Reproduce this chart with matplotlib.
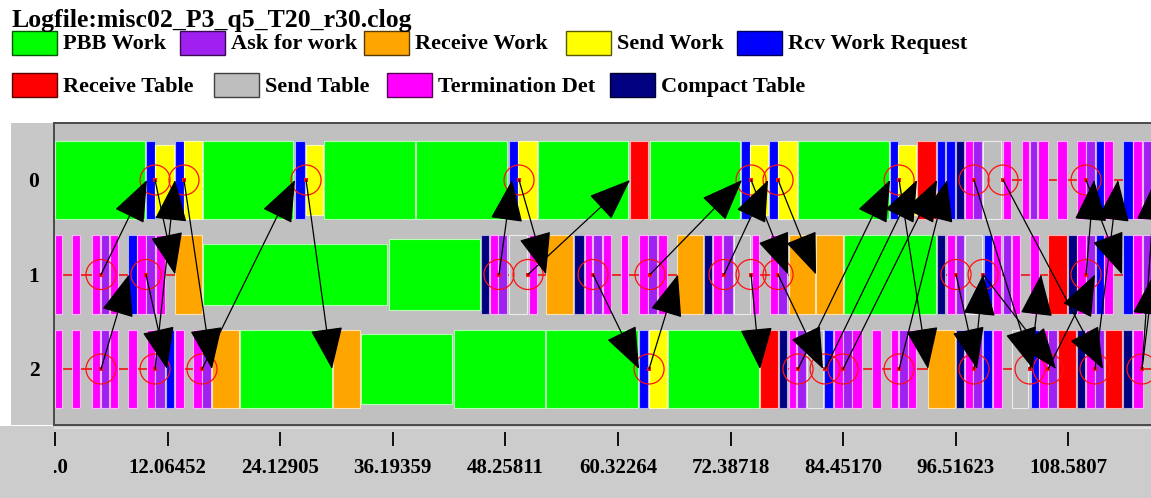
import matplotlib
matplotlib.use("Agg")
import matplotlib.pyplot as plt
from matplotlib.patches import Rectangle, FancyArrowPatch, ArrowStyle
import matplotlib.colors as mcolors
import numpy as np

# ---------------- data ----------------
title = "Logfile:misc02_P3_q5_T20_r30.clog"

legend_codes = ["PBB", "AFW", "RW", "SW", "RWR", "RT", "ST", "TD", "CT"]
legend_names = ["PBB Work", "Ask for work", "Receive Work", "Send Work", "Rcv Work Request",
                "Receive Table", "Send Table", "Termination Det", "Compact Table"]
legend_colors = ["#00ff00", "#a020f0", "#ffa500", "#ffff00", "#0000ff",
                 "#ff0000", "#bebebe", "#ff00ff", "#000080"]

row_labels = ["0", "1", "2"]

tick_values = [0.0, 12.06452, 24.12905, 36.19359, 48.25811, 60.32264,
               72.38718, 84.45170, 96.51623, 108.5807]
tick_labels = ["0.0", "12.06452", "24.12905", "36.19359", "48.25811", "60.32264",
               "72.38718", "84.45170", "96.51623", "108.5807"]

# (start, end, state, nesting depth)
row0_states = [
    (0.0, 9.64, "PBB", 0), (9.80, 10.72, "RWR", 0), (10.72, 12.75, "SW", 1),
    (12.86, 13.82, "RWR", 0), (13.82, 15.75, "SW", 0), (15.86, 25.50, "PBB", 0),
    (25.72, 26.79, "RWR", 0), (26.90, 28.72, "SW", 1), (28.82, 38.57, "PBB", 0),
    (38.68, 48.43, "PBB", 0), (48.65, 49.61, "RWR", 0), (49.61, 51.65, "SW", 0),
    (51.75, 61.40, "PBB", 0), (61.61, 63.54, "RT", 0), (63.75, 73.40, "PBB", 0),
    (73.50, 74.47, "RWR", 0), (74.47, 76.40, "SW", 1), (76.51, 77.47, "RWR", 0),
    (77.47, 79.50, "SW", 0), (79.61, 89.36, "PBB", 0), (89.47, 90.33, "RWR", 0),
    (90.33, 92.26, "SW", 1), (92.36, 94.40, "RT", 0), (94.51, 95.36, "RWR", 0),
    (95.47, 96.44, "RWR", 0), (96.54, 97.40, "CT", 0), (97.51, 98.36, "TD", 0),
    (98.36, 99.33, "AFW", 0), (99.44, 101.36, "ST", 0), (101.58, 102.44, "TD", 0),
    (103.61, 104.36, "TD", 0), (104.47, 105.22, "AFW", 0), (105.33, 106.40, "TD", 0),
    (107.36, 108.43, "TD", 0), (109.51, 110.47, "TD", 0), (110.47, 111.43, "AFW", 0),
    (111.54, 112.40, "RWR", 0), (112.40, 113.36, "TD", 0), (114.43, 115.50, "RWR", 0),
    (115.50, 116.47, "TD", 0), (116.58, 117.60, "AFW", 0),
]
row1_states = [
    (0.0, 0.75, "TD", 0), (1.82, 2.68, "TD", 0), (3.96, 4.82, "TD", 0),
    (4.93, 5.79, "AFW", 0), (5.89, 6.75, "TD", 0), (7.82, 8.79, "RWR", 0),
    (8.79, 9.75, "TD", 0), (9.75, 10.72, "AFW", 0), (10.82, 11.79, "TD", 0),
    (12.86, 15.75, "RW", 0), (15.86, 35.57, "PBB", 2), (35.79, 45.54, "PBB", 1),
    (45.65, 46.50, "CT", 0), (46.61, 47.47, "TD", 0), (47.47, 48.43, "AFW", 0),
    (48.65, 50.57, "ST", 0), (50.79, 51.65, "TD", 0), (52.61, 55.50, "RW", 0),
    (55.61, 56.68, "CT", 0), (56.79, 57.54, "TD", 0), (57.65, 58.61, "AFW", 0),
    (58.72, 59.58, "TD", 0), (60.65, 61.40, "TD", 0), (62.58, 63.54, "TD", 0),
    (63.54, 64.50, "AFW", 0), (64.61, 65.58, "TD", 0), (66.65, 69.43, "RW", 0),
    (69.54, 70.40, "CT", 0), (70.50, 71.47, "TD", 0), (71.58, 72.65, "AFW", 0),
    (72.76, 74.47, "ST", 0), (74.68, 75.43, "TD", 0), (76.61, 77.47, "TD", 0),
    (77.47, 78.43, "AFW", 0), (78.65, 81.43, "RW", 0), (81.54, 84.43, "RW", 0),
    (84.54, 94.40, "PBB", 0), (94.51, 95.36, "CT", 0), (95.58, 96.44, "TD", 0),
    (96.54, 97.40, "AFW", 0), (97.51, 99.33, "ST", 0), (99.54, 100.40, "RWR", 0),
    (100.51, 101.36, "TD", 0), (101.58, 102.44, "AFW", 0), (102.54, 103.40, "TD", 0),
    (104.47, 105.43, "TD", 0), (106.40, 108.43, "RT", 0), (108.54, 109.51, "CT", 0),
    (109.51, 110.47, "TD", 0), (110.47, 111.43, "AFW", 0), (111.54, 112.40, "RWR", 0),
    (112.40, 113.36, "TD", 0), (114.43, 115.50, "RWR", 0), (115.50, 116.47, "TD", 0),
    (116.58, 117.60, "AFW", 0),
]
row2_states = [
    (0.0, 0.75, "TD", 0), (1.82, 2.68, "TD", 0), (3.96, 4.82, "TD", 0),
    (4.93, 5.79, "AFW", 0), (5.89, 6.75, "TD", 0), (7.82, 8.79, "TD", 0),
    (9.86, 10.72, "TD", 0), (10.72, 11.79, "AFW", 0), (11.89, 12.75, "RWR", 0),
    (12.86, 13.82, "TD", 0), (14.79, 15.75, "TD", 0), (15.75, 16.72, "AFW", 0),
    (16.82, 19.72, "RW", 0), (19.82, 29.68, "PBB", 0), (29.79, 32.68, "RW", 0),
    (32.79, 42.54, "PBB", 1), (42.75, 52.50, "PBB", 0), (52.61, 62.47, "PBB", 0),
    (62.58, 63.54, "RWR", 0), (63.65, 65.58, "SW", 0), (65.68, 75.43, "PBB", 0),
    (75.54, 77.47, "RT", 0), (77.58, 78.43, "CT", 0), (78.65, 79.40, "TD", 0),
    (79.50, 80.47, "AFW", 0), (80.58, 82.29, "ST", 0), (82.40, 83.36, "RWR", 0),
    (83.47, 84.43, "TD", 0), (84.43, 85.40, "AFW", 0), (85.40, 86.47, "TD", 0),
    (87.54, 88.51, "TD", 0), (89.58, 90.33, "TD", 0), (90.44, 91.40, "AFW", 0),
    (91.40, 92.26, "TD", 0), (93.54, 96.44, "RW", 0), (96.54, 97.40, "CT", 0),
    (97.51, 98.36, "TD", 0), (98.36, 99.33, "AFW", 0), (99.44, 100.40, "RWR", 0),
    (100.51, 101.47, "TD", 0), (102.54, 104.26, "ST", 0), (104.58, 105.43, "RWR", 0),
    (105.43, 106.40, "TD", 0), (106.40, 107.36, "AFW", 0), (107.47, 109.40, "RT", 0),
    (109.51, 110.36, "CT", 0), (110.47, 111.43, "TD", 0), (111.43, 112.40, "AFW", 0),
    (112.51, 114.33, "RT", 0), (114.43, 115.40, "CT", 0), (115.50, 116.58, "TD", 0),
]
row_states = [row0_states, row1_states, row2_states]

# thin red timeline segments (visible between states)
idle_spans = [
    [(96.5, 117.6)],
    [(0.0, 15.8), (45.6, 84.5), (94.5, 117.6)],
    [(0.0, 16.8), (77.5, 93.6), (96.5, 117.6)],
]

# messages: (send time, send row, receive time, receive row)
arrows = [
    (4.93, 1, 9.86, 0), (4.93, 2, 7.93, 1), (10.72, 0, 12.86, 1), (9.75, 1, 12.00, 2),
    (10.72, 2, 12.86, 0), (13.82, 0, 16.82, 2), (15.75, 2, 25.72, 0), (26.90, 0, 29.68, 2),
    (47.57, 1, 48.97, 0), (49.72, 0, 52.61, 1), (50.68, 1, 61.61, 0), (57.65, 1, 62.58, 2),
    (63.65, 2, 66.75, 1), (63.75, 1, 73.61, 0), (71.68, 1, 76.40, 0), (74.58, 1, 75.54, 2),
    (74.58, 0, 78.54, 1), (77.47, 0, 81.54, 1), (77.47, 1, 82.29, 2), (79.61, 2, 89.47, 0),
    (82.51, 2, 92.36, 0), (84.43, 2, 94.51, 0), (90.44, 2, 95.58, 0), (90.44, 0, 93.54, 2),
    (96.54, 1, 98.79, 2), (98.47, 2, 99.44, 1), (98.47, 0, 104.79, 2), (99.44, 1, 107.25, 2),
    (104.47, 2, 105.65, 1), (106.40, 2, 111.43, 1), (101.58, 0, 112.29, 2), (110.47, 1, 111.33, 0),
    (110.47, 0, 114.33, 1), (111.43, 2, 113.90, 0), (116.47, 2, 117.90, 0), (116.47, 2, 117.70, 1),
]

# ---------------- figure ----------------
W, H = 1151, 498
FONT = "Liberation Serif"
plt.rcParams["font.family"] = [FONT, "DejaVu Serif"]

fig = plt.figure(figsize=(W / 100, H / 100), dpi=100, facecolor="white")


def fx(x):
    return x / W


def fy(y):
    return 1 - y / H


color_of = dict(zip(legend_codes, legend_colors))


def lighten(c, f):
    r = np.array(mcolors.to_rgb(c))
    return tuple(r + (1 - r) * f)


def darken(c, f):
    r = np.array(mcolors.to_rgb(c))
    return tuple(r * f)


# backgrounds
fig.add_artist(Rectangle((0, 0), 1, (H - 426) / H, transform=fig.transFigure,
                         fc="#cccccc", ec="none", zorder=-2))
fig.add_artist(Rectangle((fx(11), fy(425)), (54 - 11) / W, (425 - 123) / H,
                         transform=fig.transFigure, fc="#c8c8c8", ec="none", zorder=-2))

# title
fig.text(fx(12), fy(27), title, fontsize=18.5, fontweight="bold", va="baseline", ha="left")

# legend
legend_x = [12, 180, 364, 566, 737, 12, 214, 387, 610]
legend_row = [0, 0, 0, 0, 0, 1, 1, 1, 1]
for name, col, lx, lr in zip(legend_names, legend_colors, legend_x, legend_row):
    top = 31 + 42 * lr
    fig.add_artist(Rectangle((fx(lx), fy(top + 24)), 45 / W, 24 / H, transform=fig.transFigure,
                             fc=col, ec=darken(col, 0.35) if col != "#bebebe" else "#404040", lw=1.0))
    fig.text(fx(lx + 51), fy(49 + 43 * lr), name, fontsize=16, fontweight="bold",
             va="baseline", ha="left")

# timeline axes
x_left, x_right = -0.107, 117.43
ax = fig.add_axes([fx(54), fy(425), (1151 - 54) / W, (425 - 123) / H])
ax.set_facecolor("#c0c0c0")
ax.set_xlim(x_left, x_right)
ax.set_ylim(2.5926, -0.6032)
ax.set_xticks([])
ax.set_yticks([])
for side in ["top", "left", "bottom"]:
    ax.spines[side].set_color("#4a4a4a")
    ax.spines[side].set_linewidth(1.4)
ax.spines["right"].set_visible(False)

half_heights = [0.413, 0.372, 0.328]

for r, spans in enumerate(idle_spans):
    for s, e in spans:
        ax.plot([s, e], [r, r], color="#f01818", lw=1.25, zorder=1, solid_capstyle="butt")

for r, states in enumerate(row_states):
    for s, e, code, d in states:
        hh = half_heights[d]
        col = color_of[code]
        ax.add_patch(Rectangle((s, r - hh), e - s, 2 * hh, fc=col,
                               ec=lighten(col, 0.7), lw=0.8, zorder=2))

# event circles at message sends
sends = sorted(set((a[0], a[1]) for a in arrows))
st = [p[0] for p in sends]
sr = [p[1] for p in sends]
ax.scatter(st, sr, s=(30 * 0.72) ** 2, facecolors="none", edgecolors="#ff1010",
           linewidths=0.9, zorder=4)
ax.scatter(st, sr, s=5, marker="s", color="#ff1010", linewidths=0, zorder=4)

astyle = ArrowStyle("-|>", head_length=27, head_width=10.5)
for t0, r0, t1, r1 in arrows:
    ax.add_patch(FancyArrowPatch((t0, r0), (t1, r1), arrowstyle=astyle, mutation_scale=1,
                                 shrinkA=0, shrinkB=0, color="black", lw=0.9, zorder=5))

# row labels
for r, lab in enumerate(row_labels):
    fig.text(fx(34), fy(187 + 94.5 * r), lab, fontsize=15.5, fontweight="bold",
             ha="center", va="baseline")

# ruler
axr = fig.add_axes([fx(54), 0, (1151 - 54) / W, (H - 426) / H])
axr.set_xlim(x_left, x_right)
axr.set_ylim(498, 426)
axr.axis("off")
axr.plot([x_left, x_right], [427.5, 427.5], color="#e6e6e6", lw=1.2)
axr.vlines(tick_values, 432, 446, color="black", lw=1.3)
for v, lab in zip(tick_values, tick_labels):
    axr.text(v, 473, lab, fontsize=15, fontweight="bold", ha="center", va="baseline",
             clip_on=True)

fig.savefig("out.png", dpi=100, facecolor="white")
